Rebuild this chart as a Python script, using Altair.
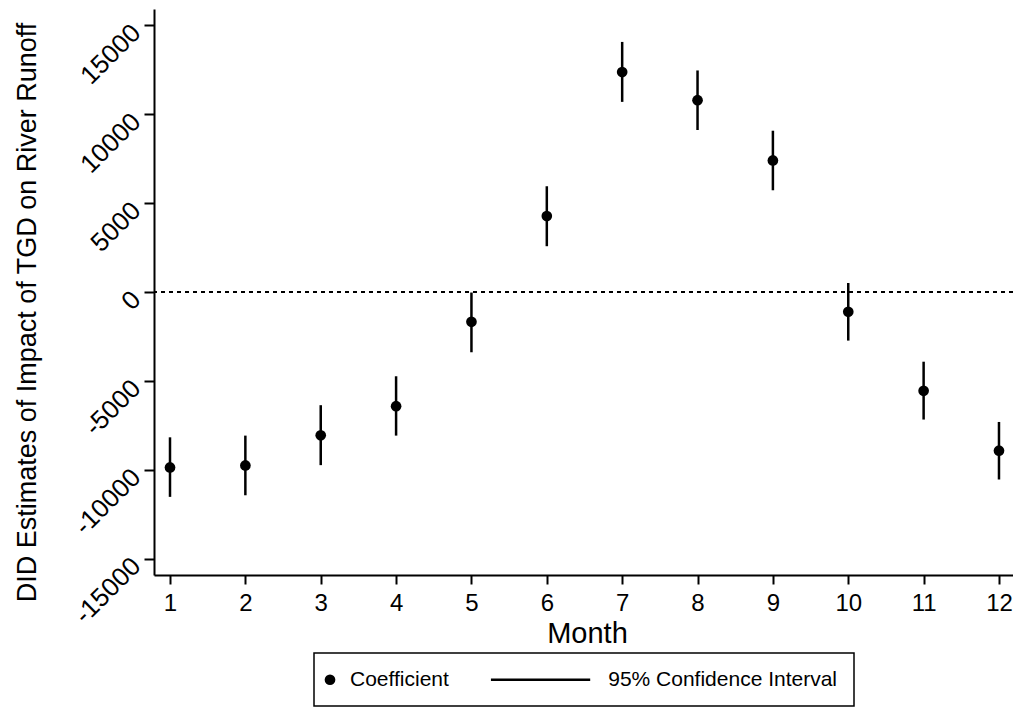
import altair as alt
import pandas as pd

months = [1, 2, 3, 4, 5, 6, 7, 8, 9, 10, 11, 12]
coef = [-9870, -9757, -8062, -6424, -1678, 4271, 12373, 10791, 7401, -1113, -5559, -8927]
ci_low = [-11525, -11435, -9740, -8079, -3390, 2576, 10695, 9113, 5723, -2734, -7175, -10548]
ci_high = [-8175, -8079, -6367, -4740, -30, 5949, 14068, 12463, 9073, 508, -3921, -7311]
series_names = ["Coefficient", "95% Confidence Interval"]
y_ticks = [-15000, -10000, -5000, 0, 5000, 10000, 15000]

df = pd.DataFrame({
    "month": months,
    "coef": coef,
    "lo": ci_low,
    "hi": ci_high,
    "series": ["Coefficient"] * len(months),
})

FONT = "Liberation Sans"
xscale = alt.Scale(domain=[0.7877, 12.186], nice=False, zero=False)
yscale = alt.Scale(domain=[-15920, 15920], nice=False, zero=False)

xaxis = alt.Axis(
    title="Month", values=months, format="d", grid=False,
    labelFontSize=24, labelPadding=7, tickSize=9,
    titleFontSize=29, titleX=433, titleY=67, titleBaseline="alphabetic",
    titleAlign="center", titleAnchor="start",
)
yaxis = alt.Axis(
    title="DID Estimates of Impact of TGD on River Runoff", values=y_ticks, grid=False,
    labelExpr="datum.value < 0 ? '-' + abs(datum.value) : '' + datum.value",
    labelFontSize=26, labelAngle=315, labelAlign="right", labelBaseline="middle",
    labelPadding=8, labelOffset=3, tickSize=10,
    titleFontSize=27, titleAngle=270, titleX=-119, titleY=303,
    titleAlign="center", titleBaseline="alphabetic", titleAnchor="start",
)

base = alt.Chart(df)

zero_line = base.mark_rule(color="black", strokeWidth=2, strokeDash=[4, 4]).encode(
    y=alt.datum(0, scale=yscale, axis=yaxis)
)

ci = base.mark_rule(color="black", strokeWidth=2.5).encode(
    x=alt.X("month:Q", scale=xscale, axis=xaxis),
    y=alt.Y("lo:Q", scale=yscale, axis=yaxis),
    y2="hi:Q",
)

# legend symbol for the CI: a thin filled bar drawn to the left of its entry
line_path = "M-18.22,-0.234L0.375,-0.234L0.375,0.234L-18.22,0.234Z"
points = base.mark_point(filled=True, size=114, color="black", opacity=1).encode(
    x=alt.X("month:Q", scale=xscale, axis=xaxis),
    y=alt.Y("coef:Q", scale=yscale, axis=yaxis),
    shape=alt.Shape(
        "series:N",
        scale=alt.Scale(domain=series_names, range=["circle", line_path]),
        legend=alt.Legend(
            title=None, orient="none", legendX=160, legendY=644,
            direction="horizontal", columns=2, padding=16,
            columnPadding=41.2, labelOffset=9.5, symbolOffset=-10.5,
            labelFontSize=21, labelFont=FONT, labelColor="black", labelLimit=400,
            symbolSize=114, symbolFillColor="black", symbolStrokeWidth=0,
            symbolOpacity=1, strokeColor="black",
        ),
    ),
)

chart = alt.layer(zero_line, ci, points).properties(
    width=859, height=566,
    autosize=alt.AutoSizeParams(type="none"),
    padding={"left": 146, "top": 1, "right": 0, "bottom": 132},
).configure_view(stroke=None).configure_axis(
    domainColor="black", domainWidth=2, tickColor="black", tickWidth=2,
    labelColor="black", titleColor="black", labelFont=FONT, titleFont=FONT,
    titleFontWeight="normal",
).configure_legend(strokeWidth=1.5)

chart.save("out.html", embed_options={"renderer": "svg", "actions": False})
